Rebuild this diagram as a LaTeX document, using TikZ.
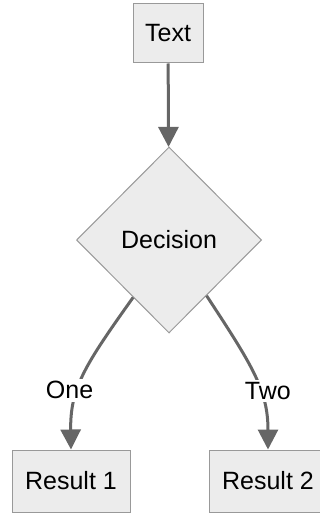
\documentclass[tikz,border=0pt]{standalone}
\usepackage{fontspec}
\setmainfont{Liberation Sans}
\usepackage{tikz}
\usetikzlibrary{shapes.geometric,arrows.meta}
\definecolor{boxfill}{HTML}{ECECEC}
\definecolor{boxline}{HTML}{999999}
\definecolor{edgeline}{HTML}{666666}

\begin{document}
\begin{tikzpicture}[x=0.75pt, y=-0.75pt,
        every node/.style={font=\fontsize{18.75pt}{22pt}\selectfont},
        box/.style={draw=boxline, fill=boxfill, line width=0.75pt, inner sep=0pt},
        decisionbox/.style={box, diamond, minimum width=138.75pt, minimum height=139.5pt},
        edge/.style={draw=edgeline, line width=2.25pt, -{Triangle[length=15pt, width=15pt]}},
        lbl/.style={fill=white, inner sep=2pt}]
        \useasboundingbox (0,0) rectangle (320,513);
        \node[box, minimum width=52.5pt, minimum height=44.25pt] (txt) at (168,33.5) {Text};
        \node[decisionbox] (decision) at (169,240) {Decision};
        \node[box, minimum width=88.5pt, minimum height=46.5pt] (res1) at (71,481) {Result 1};
        \node[box, minimum width=88.5pt, minimum height=46.5pt] (res2) at (268,481) {Result 2};
        \draw[edge] (txt) -- (decision);
        \draw[edge] (decision.238) .. controls (85,365) and (70,388) .. (res1.north) node[lbl, pos=0.61, xshift=-6.4pt] {One};
        \draw[edge] (decision.304) .. controls (252,365) and (268,390) .. (res2.north) node[lbl, pos=0.61, xshift=6pt] {Two};
    \end{tikzpicture}
\end{document}
